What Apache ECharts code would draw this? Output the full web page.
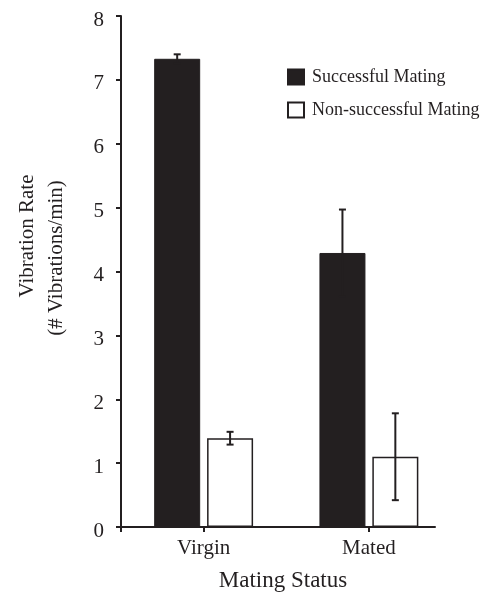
<!DOCTYPE html>
<html>
<head>
<meta charset="utf-8">
<script src="https://cdn.jsdelivr.net/npm/echarts@6/dist/echarts.min.js"></script>
<style>
html,body{margin:0;padding:0;background:#fff;}
#chart{width:487px;height:592px;}
</style>
</head>
<body>
<div id="chart"></div>
<script>
const categories = ['Virgin', 'Mated'];
const seriesNames = ['Successful Mating', 'Non-successful Mating'];
const successful = [7.33, 4.29];
const successfulErr = [0.07, 0.68];
const nonSuccessful = [1.39, 1.10];
const nonSuccessfulErr = [0.10, 0.68];
const yTickValues = [0, 1, 2, 3, 4, 5, 6, 7, 8];

const INK = '#231f20';
const FONT = 'Liberation Serif';
const BAR_W = 46;
const GAP_PCT = 15;
const OFFSET = BAR_W / 2 + BAR_W * GAP_PCT / 200;

const xPos = categories.map((c, i) => i + 0.5);

function barData(vals) { return vals.map((v, i) => [xPos[i], v]); }
function errData(vals, errs) { return vals.map((v, i) => [xPos[i], v, errs[i]]); }

function errRenderer(offset) {
  return function (params, api) {
    const x = api.value(0), y = api.value(1), e = api.value(2);
    const hi = api.coord([x, y + e]);
    const lo = api.coord([x, y - e]);
    const cx = hi[0] + offset;
    const cap = 3.5;
    const style = { stroke: INK, lineWidth: 2, fill: null };
    return {
      type: 'group',
      children: [
        { type: 'line', shape: { x1: cx, y1: hi[1], x2: cx, y2: lo[1] }, style },
        { type: 'line', shape: { x1: cx - cap, y1: hi[1], x2: cx + cap, y2: hi[1] }, style },
        { type: 'line', shape: { x1: cx - cap, y1: lo[1], x2: cx + cap, y2: lo[1] }, style }
      ]
    };
  };
}

const chart = echarts.init(document.getElementById('chart'), null, { renderer: 'canvas' });
chart.setOption({
  animation: false,
  backgroundColor: '#fff',
  textStyle: { fontFamily: FONT, color: INK },
  grid: { left: 121, right: 52, top: 16, bottom: 65, containLabel: false, outerBoundsMode: 'none' },
  legend: {
    orient: 'vertical',
    left: 287,
    top: 68,
    padding: 0,
    itemWidth: 16,
    itemHeight: 15,
    itemGap: 15,
    icon: 'rect',
    textStyle: { fontFamily: FONT, fontSize: 18, color: INK, padding: [0, 0, 0, 3] },
    data: seriesNames
  },
  xAxis: {
    type: 'value',
    min: 0,
    max: 1.9,
    splitLine: { show: false },
    axisLine: { show: true, onZero: true, lineStyle: { color: INK, width: 2 } },
    axisTick: { show: true, inside: false, length: 5, customValues: [0, xPos[0], xPos[1]], lineStyle: { color: INK, width: 2 } },
    axisLabel: {
      show: true,
      customValues: xPos,
      margin: 11,
      fontFamily: FONT,
      fontSize: 21,
      color: INK,
      formatter: function (v) { return categories[Math.round(v - 0.5)] || ''; }
    },
    name: 'Mating Status',
    nameLocation: 'middle',
    nameGap: 42,
    nameTextStyle: { fontFamily: FONT, fontSize: 23, color: INK, padding: [0, 0, 0, 10] }
  },
  yAxis: {
    type: 'value',
    min: 0,
    max: 8,
    interval: 1,
    splitLine: { show: false },
    axisLine: { show: true, lineStyle: { color: INK, width: 2 } },
    axisTick: { show: true, inside: false, length: 5, lineStyle: { color: INK, width: 2 } },
    axisLabel: {
      margin: 17,
      fontFamily: FONT,
      fontSize: 21,
      color: INK,
      formatter: function (v) { return yTickValues.indexOf(v) >= 0 ? '{d|' + v + '}' : ''; },
      rich: {
        d: { fontFamily: FONT, fontSize: 21, color: INK, padding: [8, 0, 0, 0] }
      }
    },
    name: '{a|Vibration Rate}\n{b|(# Vibrations/min)}',
    nameLocation: 'middle',
    nameRotate: 90,
    nameGap: 50,
    nameTextStyle: {
      fontFamily: FONT,
      fontSize: 21,
      color: INK,
      lineHeight: 29,
      rich: {
        a: { fontFamily: FONT, fontSize: 21, color: INK, lineHeight: 29, padding: [0, 0, 0, 71] },
        b: { fontFamily: FONT, fontSize: 21, color: INK, lineHeight: 29, padding: [0, 0, 0, 27] }
      }
    }
  },
  series: [
    {
      name: seriesNames[0],
      type: 'bar',
      barWidth: BAR_W,
      barGap: GAP_PCT + '%',
      itemStyle: { color: INK, borderColor: INK, borderWidth: 1 },
      data: barData(successful)
    },
    {
      name: seriesNames[1],
      type: 'bar',
      barWidth: BAR_W,
      barGap: GAP_PCT + '%',
      itemStyle: { color: '#ffffff', borderColor: INK, borderWidth: 1.5 },
      data: barData(nonSuccessful)
    },
    {
      type: 'custom',
      z: 5,
      renderItem: errRenderer(-OFFSET),
      data: errData(successful, successfulErr),
      encode: { x: 0, y: [1] }
    },
    {
      type: 'custom',
      z: 5,
      renderItem: errRenderer(OFFSET),
      data: errData(nonSuccessful, nonSuccessfulErr),
      encode: { x: 0, y: [1] }
    }
  ]
});
</script>
</body>
</html>
